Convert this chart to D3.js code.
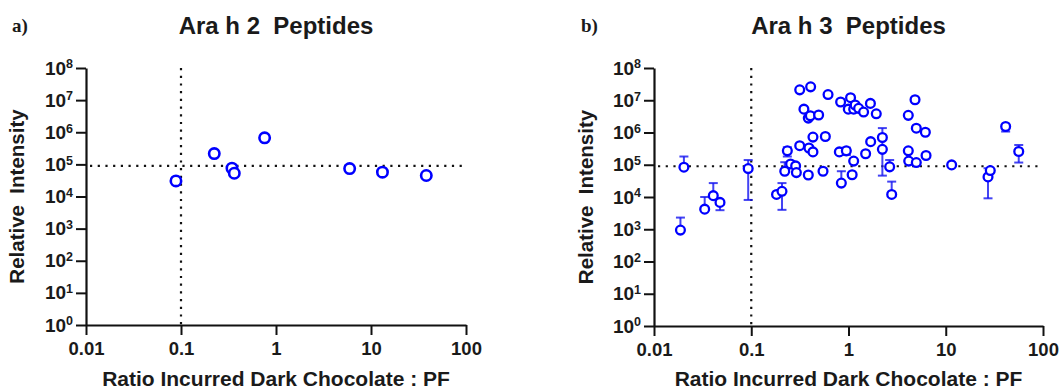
<!DOCTYPE html>
<html lang="en">
<head>
<meta charset="UTF-8">
<title>Ara h peptides</title>
<script src="https://cdn.jsdelivr.net/npm/d3@7"></script>
<style>
    body { margin: 0; background: #fff; }
    text { font-family: "Liberation Sans", Arial, sans-serif; font-weight: bold; fill: #1a1a1a; }
</style>
</head>
<body>
<script>
    // panel a - Ara h 2 peptides
    var ah2Ratio = [0.0885, 0.224, 0.344, 0.364, 0.759, 5.96, 13.2, 38.2];
    var ah2Intensity = [30600, 217000, 76000, 53000, 670000, 74000, 57000, 45000];

    // panel b - Ara h 3 peptides (null = no error bar on that side)
    var ah3Ratio = [0.0187, 0.0203, 0.0332, 0.0407, 0.0477, 0.093, 0.182, 0.207, 0.221, 0.235,
        0.254, 0.286, 0.291, 0.315, 0.315, 0.348, 0.386, 0.392, 0.386, 0.408,
        0.405, 0.431, 0.431, 0.493, 0.547, 0.578, 0.616, 0.83, 0.805, 0.844,
        0.95, 0.995, 1.05, 1.09, 1.13, 1.13, 1.17, 1.27, 1.43, 1.50,
        1.68, 1.69, 1.93, 2.23, 2.23, 2.65, 2.78, 4.12, 4.12, 4.16,
        4.83, 4.98, 4.98, 6.17, 6.27, 11.5, 27.2, 28.7, 41.3, 56.3];
    var ah3Intensity = [940, 84000, 4200, 11000, 6800, 76000, 12000, 15000, 63000, 270000,
        106000, 92000, 57000, 390000, 21000000, 5300000, 2800000, 330000, 48000, 26000000,
        3300000, 720000, 250000, 3500000, 63000, 750000, 15000000, 8800000, 250000, 27000,
        270000, 5300000, 12000000, 49000, 130000, 5300000, 7100000, 5600000, 4300000, 220000,
        8000000, 520000, 3800000, 700000, 300000, 86000, 12000, 3400000, 270000, 130000,
        10400000, 1360000, 117000, 1020000, 193000, 99000, 42000, 66000, 1540000, 257000];
    var ah3ErrLow = [null, null, null, null, 3900, 8100, null, 4000, null, 180000,
        null, null, null, null, null, null, null, null, null, null,
        null, null, null, null, null, null, null, null, null, null,
        200000, null, null, null, null, null, null, null, null, null,
        null, null, null, null, 46000, null, null, null, null, null,
        null, null, null, null, null, null, 9100, null, 1070000, 117000];
    var ah3ErrHigh = [2300, 180000, 10000, 27000, null, 140000, null, 27000, 120000, 350000,
        null, null, null, null, null, null, null, null, null, null,
        null, null, null, null, null, null, null, null, null, 63000,
        340000, null, null, null, null, null, null, null, null, null,
        null, null, null, null, 1370000, 140000, 30000, null, null, null,
        null, null, null, null, null, null, 78000, null, null, 410000];

    var xTicks = [0.01, 0.1, 1, 10, 100];
    var yTicks = [1, 1e1, 1e2, 1e3, 1e4, 1e5, 1e6, 1e7, 1e8];
    var xCut = 0.1;
    var yCut = 9e4;

    var svg = d3.select("body").append("svg")
        .attr("width", 1060)
        .attr("height", 390);

    function drawPanel(opt) {
        var x = d3.scaleLog().domain([0.01, 100]).range([opt.left, opt.right]);
        var y = d3.scaleLog().domain([1, 1e8]).range([opt.bottom, opt.top]);
        var g = svg.append("g");

        // dotted cut-off lines
        g.append("line")
            .attr("x1", x(xCut)).attr("x2", x(xCut))
            .attr("y1", y(1e8)).attr("y2", y(1))
            .attr("stroke", "#111").attr("stroke-width", 2.2)
            .attr("stroke-dasharray", "2.2,5.5");
        g.append("line")
            .attr("x1", x(0.01) + 4).attr("x2", x(100) - 4)
            .attr("y1", y(yCut)).attr("y2", y(yCut))
            .attr("stroke", "#111").attr("stroke-width", 2.2)
            .attr("stroke-dasharray", "2.2,5.5");

        var pts = opt.ratio.map(function (r, i) {
            return {
                x: r, y: opt.value[i],
                lo: opt.lo ? opt.lo[i] : null,
                hi: opt.hi ? opt.hi[i] : null
            };
        });

        // error bars
        var eb = g.selectAll(".err")
            .data(pts.filter(function (d) { return d.lo || d.hi; }))
            .enter().append("g")
            .attr("class", "err")
            .attr("stroke", "rgba(20,20,240,0.8)")
            .attr("stroke-width", 2);
        eb.append("line")
            .attr("x1", function (d) { return x(d.x); })
            .attr("x2", function (d) { return x(d.x); })
            .attr("y1", function (d) { return y(d.lo || d.y); })
            .attr("y2", function (d) { return y(d.hi || d.y); });
        eb.filter(function (d) { return d.lo; }).append("line")
            .attr("x1", function (d) { return x(d.x) - 4.5; })
            .attr("x2", function (d) { return x(d.x) + 4.5; })
            .attr("y1", function (d) { return y(d.lo); })
            .attr("y2", function (d) { return y(d.lo); });
        eb.filter(function (d) { return d.hi; }).append("line")
            .attr("x1", function (d) { return x(d.x) - 4.5; })
            .attr("x2", function (d) { return x(d.x) + 4.5; })
            .attr("y1", function (d) { return y(d.hi); })
            .attr("y2", function (d) { return y(d.hi); });

        // points
        g.selectAll(".pt")
            .data(pts)
            .enter().append("circle")
            .attr("class", "pt")
            .attr("cx", function (d) { return x(d.x); })
            .attr("cy", function (d) { return y(d.y); })
            .attr("r", opt.r)
            .attr("fill", "#fff")
            .attr("stroke", "#0000ff")
            .attr("stroke-width", opt.sw);

        // axes
        var xAxis = g.append("g")
            .attr("transform", "translate(0," + opt.bottom + ")")
            .call(d3.axisBottom(x).tickValues(xTicks)
                .tickFormat(function (d) { return d < 1 ? String(d) : d3.format("d")(d); })
                .tickSize(10).tickSizeOuter(0).tickPadding(7));
        var yAxis = g.append("g")
            .attr("transform", "translate(" + opt.left + ",0)")
            .call(d3.axisLeft(y).tickValues(yTicks)
                .tickSize(10).tickSizeOuter(0).tickPadding(3));

        [xAxis, yAxis].forEach(function (ax) {
            ax.select(".domain").attr("stroke", "#111").attr("stroke-width", 2.2);
            ax.selectAll(".tick line").attr("stroke", "#111").attr("stroke-width", 2);
        });
        xAxis.selectAll("text").style("font-size", "18.5px");
        yAxis.selectAll("text").each(function (d) {
            var t = d3.select(this);
            t.text("10").style("font-size", "19px");
            t.append("tspan")
                .attr("dy", "-0.5em")
                .style("font-size", "12.5px")
                .text(Math.round(Math.log10(d)));
        });

        // titles
        var cx = (opt.left + opt.right) / 2;
        g.append("text")
            .attr("x", cx).attr("y", 34)
            .attr("text-anchor", "middle")
            .style("font-size", "24px")
            .style("white-space", "pre")
            .text(opt.title);
        g.append("text")
            .attr("x", cx).attr("y", 386)
            .attr("text-anchor", "middle")
            .style("font-size", "21px")
            .text("Ratio Incurred Dark Chocolate : PF");
        g.append("text")
            .attr("transform", "translate(" + opt.ylab + "," + ((opt.top + opt.bottom) / 2) + ") rotate(-90)")
            .attr("text-anchor", "middle")
            .style("font-size", "20.5px")
            .style("white-space", "pre")
            .text("Relative  Intensity");
        g.append("text")
            .attr("x", opt.tag).attr("y", 32)
            .style("font-family", "'Liberation Serif', 'Times New Roman', serif")
            .style("font-size", "19px")
            .text(opt.letter);
    }

    drawPanel({
        left: 86, right: 466, top: 68, bottom: 325,
        ratio: ah2Ratio, value: ah2Intensity,
        r: 5.2, sw: 2.6, title: "Ara h 2  Peptides", ylab: 24, tag: 12, letter: "a)"
    });
    drawPanel({
        left: 654, right: 1043, top: 68, bottom: 326,
        ratio: ah3Ratio, value: ah3Intensity, lo: ah3ErrLow, hi: ah3ErrHigh,
        r: 4.4, sw: 2.3, title: "Ara h 3  Peptides", ylab: 593, tag: 581, letter: "b)"
    });
</script>
</body>
</html>
